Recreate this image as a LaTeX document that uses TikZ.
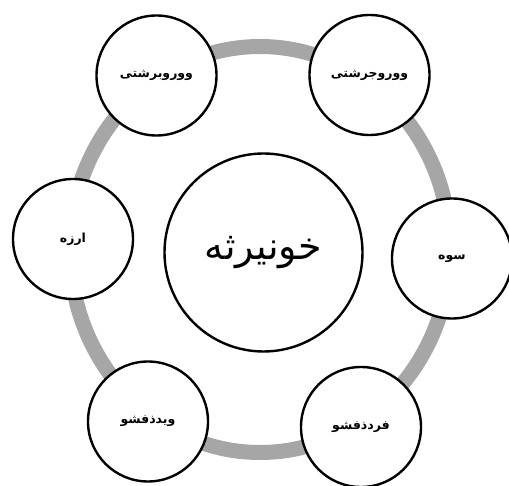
\documentclass[tikz,border=0pt]{standalone}
\usepackage{fontspec}
\newfontfamily\arabicfont[Script=Arabic]{DejaVu Sans}
\TeXXeTstate=1
\usetikzlibrary{positioning}
\definecolor{RingGray}{HTML}{A6A6A6}

\begin{document}
\begin{tikzpicture}[x=1pt,y=-1pt,
      petal/.style={circle,draw=black,fill=white,line width=2.4pt,minimum size=120pt,inner sep=0pt,
        font=\arabicfont\fontsize{12.5pt}{14pt}\selectfont\bfseries},
      hub/.style={circle,draw=black,fill=white,line width=2.4pt,minimum size=198pt,inner sep=0pt,
        font=\arabicfont\fontsize{38pt}{42pt}\selectfont}]
      \useasboundingbox (0,0) rectangle (509,486);
      \fill[white] (0,0) rectangle (509,486);
      % the grey ring
      \draw[RingGray,line width=15pt] (260,249.5) ellipse [x radius=190, y radius=203];
      \node[hub] (core) at (263.5,252.5) {\beginR خونیرثه\endR};
      \node[petal] (tl) at (156.5,75.5) {\beginR ووروبرشتی\endR};
      \node[petal] (tr) at (369.5,75) {\beginR ووروجرشتی\endR};
      \node[petal] (lf) at (73,239) {\beginR ارزه\endR};
      \node[petal] (rt) at (452,258.5) {\beginR سوه\endR};
      \node[petal] (bl) at (148,421.5) {\beginR ویدذفشو\endR};
      \node[petal] (br) at (361,427) {\beginR فردذفشو\endR};
    \end{tikzpicture}
\end{document}
